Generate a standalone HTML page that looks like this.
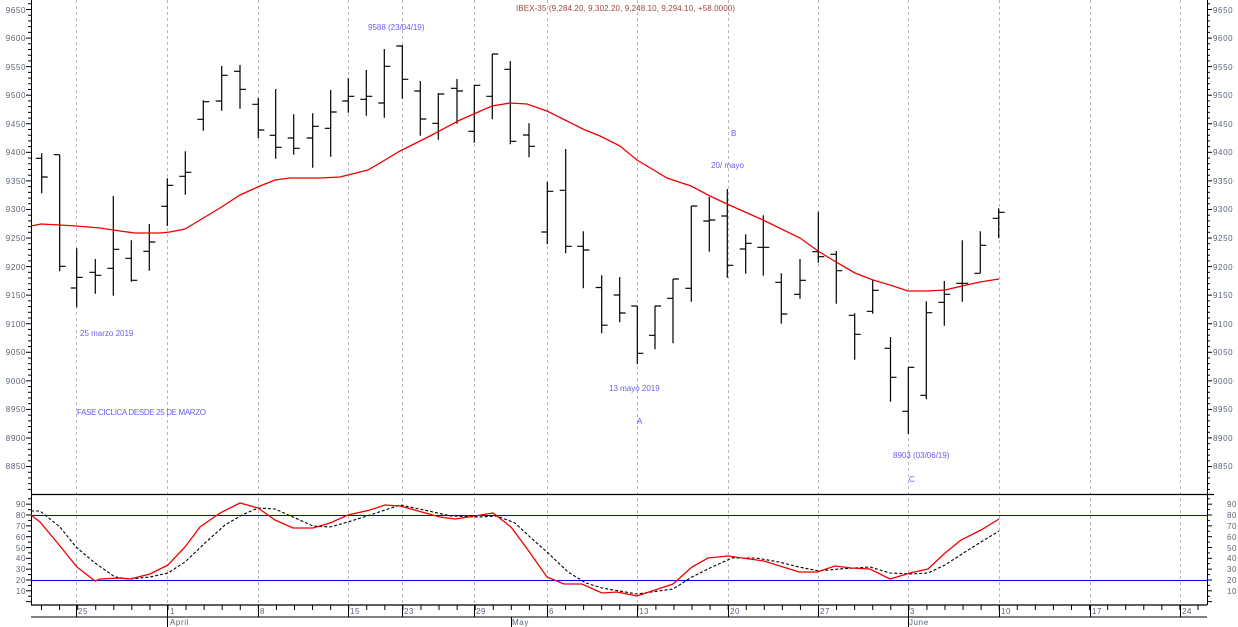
<!DOCTYPE html>
<html><head><meta charset="utf-8"><style>
html,body{margin:0;padding:0;background:#fff;}
svg{display:block;font-family:"Liberation Sans",sans-serif;}
.ax{font-size:8px;fill:#5a6478;letter-spacing:0.6px;}
.an{font-size:8px;fill:#6a5cf0;letter-spacing:0px;}
</style></head><body>
<svg id="s" width="1238" height="627" viewBox="0 0 1238 627" xmlns="http://www.w3.org/2000/svg">
<g id="grid" stroke="#b8b8b8" stroke-width="1" stroke-dasharray="3,3"></g>
<line x1="31.5" y1="0" x2="31.5" y2="605" stroke="#000"/>
<line x1="1207.5" y1="0" x2="1207.5" y2="605" stroke="#000"/>
<line x1="31" y1="494.5" x2="1214" y2="494.5" stroke="#000" stroke-width="1.3"/>
<line x1="31" y1="515.5" x2="1207" y2="515.5" stroke="#0000ee" stroke-width="1"/>
<line x1="31" y1="580.5" x2="1207" y2="580.5" stroke="#0000ee" stroke-width="1"/>
<line x1="31" y1="605" x2="1207" y2="605" stroke="#000" stroke-width="1.3"/>
<line x1="31" y1="617" x2="1207" y2="617" stroke="#000" stroke-width="1"/>
<g id="ticks" stroke="#000" stroke-width="1"></g>
<g id="bars" stroke="#000" stroke-width="1.2" fill="none"></g>
<polyline id="ma" fill="none" stroke="#ee0000" stroke-width="1.3" points="31,226 41,224 60,225 76,226 100,228 120,231 135,233 160,233 170,232 185,229 200,220 220,208 240,195 260,186 275,180 290,178 310,178 320,178 340,177 368,170 385,160 400,151 430,136 460,120 492,106 510,103 527,104 547,111 567,121 585,130 600,136 620,146 637,160 667,178 691,186 710,196 727,204 763,220 800,238 818,251 836,262 855,273 873,280 890,285 908,291 927,291 945,290 962,286 980,282 999,279"/>
<polyline fill="none" stroke="#000" stroke-width="1.1" stroke-dasharray="3,2" points="31,511 40,511 60,527 76,547 95,563 115,577 130,579 150,577 168,573 185,562 205,543 225,525 242,515 258,508 275,509 293,517 313,526 330,527 348,522 370,515 385,510 400,505 424,510 451,516 479,517 497,516 515,523 530,537 547,552 568,572 586,583 602,588 637,594 673,589 692,577 712,567 732,558 756,558 779,562 799,567 819,571 839,569 870,567 890,573 910,574 928,573 945,565 965,552 981,542 999,531"/>
<polyline fill="none" stroke="#ee0000" stroke-width="1.3" points="31,515 40,522 60,546 77,567 95,581 100,579 120,578 130,579 150,574 168,565 185,547 200,527 220,513 240,503 258,508 275,520 293,528 313,528 330,523 348,515 370,510 385,505 400,506 440,517 455,519 475,516 493,513 511,527 528,550 547,577 564,584 582,584 602,593 617,592 637,596 673,584 692,567 708,558 728,556 764,561 799,572 817,572 835,566 851,568 870,569 890,579 910,573 928,569 945,553 961,540 981,530 999,519"/>

<g class="ax" text-anchor="end">
<text x="26" y="13">9650</text><text x="26" y="41">9600</text><text x="26" y="70">9550</text><text x="26" y="98">9500</text><text x="26" y="127">9450</text><text x="26" y="155">9400</text><text x="26" y="184">9350</text><text x="26" y="212">9300</text><text x="26" y="241">9250</text><text x="26" y="270">9200</text><text x="26" y="298">9150</text><text x="26" y="327">9100</text><text x="26" y="355">9050</text><text x="26" y="384">9000</text><text x="26" y="412">8950</text><text x="26" y="441">8900</text><text x="26" y="469">8850</text>
<text x="26" y="507">90</text><text x="26" y="518">80</text><text x="26" y="529">70</text><text x="26" y="540">60</text><text x="26" y="551">50</text><text x="26" y="561">40</text><text x="26" y="572">30</text><text x="26" y="583">20</text><text x="26" y="594">10</text>
</g>
<g class="ax">
<text x="1213" y="13">9650</text><text x="1213" y="41">9600</text><text x="1213" y="70">9550</text><text x="1213" y="98">9500</text><text x="1213" y="127">9450</text><text x="1213" y="155">9400</text><text x="1213" y="184">9350</text><text x="1213" y="212">9300</text><text x="1213" y="241">9250</text><text x="1213" y="270">9200</text><text x="1213" y="298">9150</text><text x="1213" y="327">9100</text><text x="1213" y="355">9050</text><text x="1213" y="384">9000</text><text x="1213" y="412">8950</text><text x="1213" y="441">8900</text><text x="1213" y="469">8850</text>
<text x="1227" y="507">90</text><text x="1227" y="518">80</text><text x="1227" y="529">70</text><text x="1227" y="540">60</text><text x="1227" y="551">50</text><text x="1227" y="561">40</text><text x="1227" y="572">30</text><text x="1227" y="583">20</text><text x="1227" y="594">10</text>
</g>
<g class="ax">
<text x="78" y="614">25</text><text x="170" y="614">1</text><text x="260" y="614">8</text><text x="350" y="614">15</text><text x="404" y="614">23</text><text x="476" y="614">29</text><text x="549" y="614">6</text><text x="639" y="614">13</text><text x="730" y="614">20</text><text x="820" y="614">27</text><text x="910" y="614">3</text><text x="1001" y="614">10</text><text x="1092" y="614">17</text><text x="1182" y="614">24</text>
<text x="170" y="625">April</text><text x="512" y="625">May</text><text x="909" y="625">June</text>
</g>
<text x="516" y="11" style="font-size:8px;fill:#9a4a3a;letter-spacing:0.1px">IBEX-35 (9,284.20, 9,302.20, 9,248.10, 9,294.10, +58.0000)</text>
<g class="an">
<text x="368" y="30">9588 (23/04/19)</text>
<text x="80" y="336">25 marzo 2019</text>
<text x="77" y="415" textLength="129">FASE CICLICA DESDE 25 DE MARZO</text>
<text x="609" y="391">13 mayo 2019</text>
<text x="637" y="424">A</text>
<text x="731" y="136">B</text>
<text x="711" y="168">20/ mayo</text>
<text x="893" y="458">8903 (03/06/19)</text>
<text x="909" y="482">C</text>
</g>
</svg>
<script>
var NS="http://www.w3.org/2000/svg";
function el(p,n,a){var e=document.createElementNS(NS,n);for(var k in a)e.setAttribute(k,a[k]);p.appendChild(e);return e;}
var g=document.getElementById('grid');
[76.5,167.5,258.5,348.5,402.5,474.5,547.5,637.5,728.5,818.5,908.5,999.5,1090.5,1180.5].forEach(function(x){
 el(g,'line',{x1:x,y1:0,x2:x,y2:605});
});
var t=document.getElementById('ticks');
for(var v=8800;v<=9660;v+=10){var y=9.5+(9650-v)*0.5713;if(y<0||y>493)continue;var maj=(v%50==0);
 el(t,'line',{x1:maj?26:28,y1:y,x2:31,y2:y});el(t,'line',{x1:1207,y1:y,x2:maj?1212:1210,y2:y});}
for(var o=0;o<=100;o+=5){var y=515+(80-o)*1.083;if(y>603||y<495)continue;var maj=(o%10==0);
 el(t,'line',{x1:maj?26:28,y1:y,x2:31,y2:y});el(t,'line',{x1:1207,y1:y,x2:maj?1212:1210,y2:y});}
for(var i=-1;i<70;i++){var x=41.5+18.07*i;if(x<32||x>1206)continue;el(t,'line',{x1:x,y1:605,x2:x,y2:610});}
[76.5,167.5,258.5,348.5,402.5,474.5,547.5,637.5,728.5,818.5,908.5,999.5,1090.5,1180.5].forEach(function(x){el(t,'line',{x1:x,y1:605,x2:x,y2:617});});
[167.5,511.5,908.5].forEach(function(x){el(t,'line',{x1:x,y1:617,x2:x,y2:627});});
var B=[[41.7,153.3,193.3,158.3,177],[59.7,154.7,271.3,154.7,266.3],[76.7,248.3,307.3,288,277.3],[95.3,259,293.7,272.3,275.3],[113.3,196,295.7,268.3,249.3],[131.3,240.3,281.7,258.3,280.3],[149.3,224,270.7,251.3,242],[167.3,178.3,226,206.3,185.3],[185.3,151.3,194.7,176.3,172.3],[203.3,100.3,130.7,119.3,101.7],[221.7,66,110.7,101,75.3],[240,65,108.7,71.3,89.3],[258.3,98,138,104.3,130],[275.7,89,158.7,135.3,147.3],[293.7,114.3,154.7,138,148.3],[312.7,113.3,167.7,138,126.3],[330.7,90,156.7,128.3,112],[348.3,78.3,112.7,101,96.3],[366.3,70,115.7,99.3,96.3],[384.3,49,117.7,103,66.3],[402.3,45,98.7,46,79.3],[420.3,81,135.7,91,119],[438.3,93,139.7,123.3,94],[457,79,123.7,88.3,91],[474.3,85,142.7,131.3,85.3],[492.3,54,119.3,96.3,54],[510.3,61,144.3,69.3,141.3],[529,123.3,157.3,135,146.3],[547.3,182,244.3,232,191.3],[565.7,149,253.3,190.3,246.3],[583.3,231.3,288.3,246.3,250],[601.7,275.3,333.3,287.5,325.2],[619.7,277,322.3,295,313],[637.3,306,364.3,306,353.3],[655,306,349.3,335.3,306],[673,279,343.3,298.3,279],[691.3,206,301.7,288.3,206],[709.3,197,251.7,221,220],[727.3,189,277.7,216,265.3],[745.7,234.3,273.7,249,243.3],[763.3,215.3,275.7,247.3,247.3],[781.3,273.3,323.7,282.3,314],[800,259,298.7,294.3,280.3],[818.3,211.7,262.7,251.7,256.7],[836.3,251,303.7,254.3,270.7],[854.7,313.3,359.7,315.3,334.3],[872.7,280,313.7,311.3,290.3],[890.5,337,401.7,348.3,377.3],[908.3,367.3,434,411.3,367.3],[926.3,301.3,399.3,395.3,312.7],[944.3,281,325.7,302.3,294.3],[962.3,240.3,301.7,283.3,283.3],[980.3,231.3,273.3,273.3,245.3],[998.7,208.3,238.3,218.3,212.3]];
var bg=document.getElementById('bars');var d='';
B.forEach(function(b){var x=b[0].toFixed(1);d+='M'+x+' '+b[1]+'V'+b[2]+'M'+(b[0]-6).toFixed(1)+' '+b[3]+'H'+x+'M'+x+' '+b[4]+'H'+(b[0]+6).toFixed(1);});
el(bg,'path',{d:d});
</script>
</body></html>
